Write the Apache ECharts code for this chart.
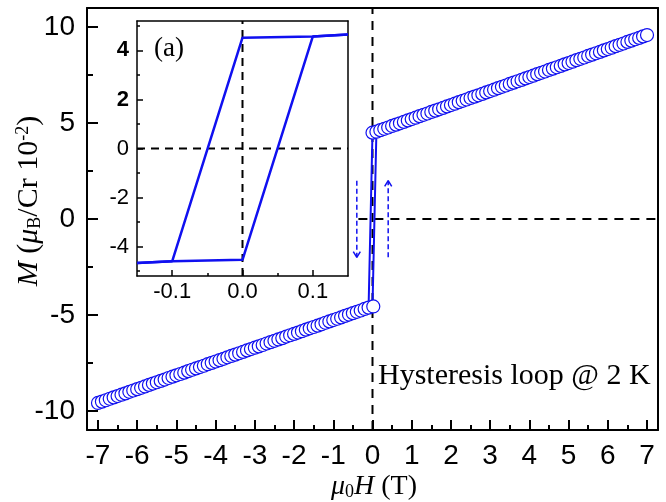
<!DOCTYPE html>
<html><head><meta charset="utf-8">
<script src="https://cdn.jsdelivr.net/npm/echarts@6/dist/echarts.min.js"></script>
<style>html,body{margin:0;padding:0;background:#fff}#c{width:666px;height:502px}</style>
</head><body><div id="c"></div>
<script>
// ---- data ----
const upperH = [0.0, 0.1, 0.2, 0.3, 0.4, 0.5, 0.6, 0.7, 0.8, 0.9, 1.0, 1.1, 1.2, 1.3, 1.4, 1.5, 1.6, 1.7, 1.8, 1.9, 2.0, 2.1, 2.2, 2.3, 2.4, 2.5, 2.6, 2.7, 2.8, 2.9, 3.0, 3.1, 3.2, 3.3, 3.4, 3.5, 3.6, 3.7, 3.8, 3.9, 4.0, 4.1, 4.2, 4.3, 4.4, 4.5, 4.6, 4.7, 4.8, 4.9, 5.0, 5.1, 5.2, 5.3, 5.4, 5.5, 5.6, 5.7, 5.8, 5.9, 6.0, 6.1, 6.2, 6.3, 6.4, 6.5, 6.6, 6.7, 6.8, 6.9, 7.0];
const upperM = [4.50, 4.55, 4.63, 4.70, 4.77, 4.85, 4.92, 4.99, 5.06, 5.14, 5.21, 5.28, 5.36, 5.43, 5.50, 5.58, 5.65, 5.72, 5.79, 5.87, 5.94, 6.01, 6.09, 6.16, 6.23, 6.31, 6.38, 6.45, 6.52, 6.60, 6.67, 6.74, 6.82, 6.89, 6.96, 7.04, 7.11, 7.18, 7.25, 7.33, 7.40, 7.47, 7.55, 7.62, 7.69, 7.77, 7.84, 7.91, 7.98, 8.06, 8.13, 8.20, 8.28, 8.35, 8.42, 8.50, 8.57, 8.64, 8.71, 8.79, 8.86, 8.93, 9.01, 9.08, 9.15, 9.23, 9.30, 9.37, 9.44, 9.52, 9.59];
const lowerH = [-7.0, -6.9, -6.8, -6.7, -6.6, -6.5, -6.4, -6.3, -6.2, -6.1, -6.0, -5.9, -5.8, -5.7, -5.6, -5.5, -5.4, -5.3, -5.2, -5.1, -5.0, -4.9, -4.8, -4.7, -4.6, -4.5, -4.4, -4.3, -4.2, -4.1, -4.0, -3.9, -3.8, -3.7, -3.6, -3.5, -3.4, -3.3, -3.2, -3.1, -3.0, -2.9, -2.8, -2.7, -2.6, -2.5, -2.4, -2.3, -2.2, -2.1, -2.0, -1.9, -1.8, -1.7, -1.6, -1.5, -1.4, -1.3, -1.2, -1.1, -1.0, -0.9, -0.8, -0.7, -0.6, -0.5, -0.4, -0.3, -0.2, -0.1, 0.02];
const lowerM = [-9.59, -9.52, -9.45, -9.37, -9.30, -9.23, -9.16, -9.09, -9.01, -8.94, -8.87, -8.80, -8.73, -8.65, -8.58, -8.51, -8.44, -8.37, -8.29, -8.22, -8.15, -8.08, -8.01, -7.93, -7.86, -7.79, -7.72, -7.65, -7.57, -7.50, -7.43, -7.36, -7.29, -7.21, -7.14, -7.07, -7.00, -6.93, -6.85, -6.78, -6.71, -6.64, -6.57, -6.49, -6.42, -6.35, -6.28, -6.21, -6.13, -6.06, -5.99, -5.92, -5.85, -5.77, -5.70, -5.63, -5.56, -5.49, -5.41, -5.34, -5.27, -5.20, -5.13, -5.05, -4.98, -4.91, -4.84, -4.77, -4.69, -4.62, -4.56];
const loopDownH = [0.15, 0.1, 0.0, -0.1, -0.15];
const loopDownM = [4.65, 4.57, 4.52, -4.60, -4.67];
const loopUpH = [-0.15, -0.1, 0.0, 0.1, 0.15];
const loopUpM = [-4.67, -4.60, -4.54, 4.57, 4.65];
const xTicks = [-7, -6, -5, -4, -3, -2, -1, 0, 1, 2, 3, 4, 5, 6, 7];
const xMinor = [-6.5, -5.5, -4.5, -3.5, -2.5, -1.5, -0.5, 0.5, 1.5, 2.5, 3.5, 4.5, 5.5, 6.5];
const yTicks = [-10, -5, 0, 5, 10];
const yMinor = [-7.5, -2.5, 2.5, 7.5];
const insetXTicks = [-0.1, 0, 0.1];
const insetXMinor = [-0.05, 0.05];
const insetYTicks = [-4, -2, 0, 2, 4];
const insetYMinor = [-5, -3, -1, 1, 3, 5];
const arrowDownH = [-0.4, -0.4], arrowDownM = [2.0, -2.0];
const arrowUpH = [0.4, 0.4], arrowUpM = [-2.0, 2.0];
const headDownH = [-0.49, -0.4, -0.31], headDownM = [-1.7, -2.0, -1.7];
const headUpH = [0.31, 0.4, 0.49], headUpM = [1.7, 2.0, 1.7];
const zeroVH = [0, 0], zeroVM = [-11, 11];
const zeroHH = [-0.36, 7.3], zeroHM = [0, 0];
const insetVH = [0, 0], insetVM = [-5.2, 5.2];
const insetHH = [-0.15, 0.15], insetHM = [0, 0];

const zip = (a, b) => a.map((v, i) => [v, b[i]]);
const BLUE = '#1010f0';
const SANS = '"Liberation Sans", Arial, sans-serif';
const SERIF = '"Liberation Serif", "Times New Roman", serif';

function lineAxis(extra) {
  return Object.assign({
    type: 'value', axisLine: { show: true, onZero: false, lineStyle: { color: '#000', width: 2 } },
    axisTick: { show: false }, axisLabel: { show: false }, splitLine: { show: false }
  }, extra);
}
function tickAxis(extra, vals, len, width) {
  return Object.assign({
    type: 'value', axisLine: { show: false, onZero: false },
    axisTick: { show: true, inside: true, length: len, customValues: vals, lineStyle: { color: '#000', width: width } },
    axisLabel: { show: false }, splitLine: { show: false }
  }, extra);
}

const chart = echarts.init(document.getElementById('c'), null, { renderer: 'canvas' });
chart.setOption({
  animation: false,
  backgroundColor: '#fff',
  grid: [
    { left: 87, right: 8, top: 8, bottom: 72, containLabel: false, outerBoundsMode: 'none' },
    { left: 137, top: 21, width: 211, height: 255, containLabel: false, outerBoundsMode: 'none', show: true, backgroundColor: '#fff', borderWidth: 0, z: 3 }
  ],
  xAxis: [
    Object.assign(lineAxis({ gridIndex: 0, position: 'bottom', min: -7.28, max: 7.28 }), {
      axisTick: { show: true, inside: true, length: 10, customValues: xTicks, lineStyle: { color: '#000', width: 2 } },
      axisLabel: { show: true, customValues: xTicks, margin: 12, color: '#000', fontSize: 28, fontFamily: SANS }
    }),
    tickAxis({ gridIndex: 0, position: 'bottom', min: -7.28, max: 7.28 }, xMinor, 5, 2),
    lineAxis({ gridIndex: 0, position: 'top', min: -7.28, max: 7.28 }),
    Object.assign(lineAxis({ gridIndex: 1, position: 'bottom', min: -0.15, max: 0.15, z: 4 }), {
      axisLine: { show: true, onZero: false, lineStyle: { color: '#000', width: 1.5 } },
      axisTick: { show: true, inside: true, length: 6, customValues: insetXTicks, lineStyle: { color: '#000', width: 1.5 } },
      axisLabel: { show: true, customValues: insetXTicks, margin: 5, color: '#000', fontSize: 22, fontFamily: SANS,
        formatter: v => v.toFixed(1) }
    }),
    tickAxis({ gridIndex: 1, position: 'bottom', min: -0.15, max: 0.15, z: 4 }, insetXMinor, 3, 1.5),
    Object.assign(lineAxis({ gridIndex: 1, position: 'top', min: -0.15, max: 0.15, z: 4 }), {
      axisLine: { show: true, onZero: false, lineStyle: { color: '#000', width: 1.5 } } })
  ],
  yAxis: [
    Object.assign(lineAxis({ gridIndex: 0, position: 'left', min: -11, max: 11 }), {
      axisTick: { show: true, inside: true, length: 11, customValues: yTicks, lineStyle: { color: '#000', width: 2 } },
      axisLabel: { show: true, customValues: yTicks, margin: 12, color: '#000', fontSize: 28, fontFamily: SANS }
    }),
    tickAxis({ gridIndex: 0, position: 'left', min: -11, max: 11 }, yMinor, 6, 2),
    lineAxis({ gridIndex: 0, position: 'right', min: -11, max: 11 }),
    Object.assign(lineAxis({ gridIndex: 1, position: 'left', min: -5.2, max: 5.2, z: 4 }), {
      axisLine: { show: true, onZero: false, lineStyle: { color: '#000', width: 1.5 } },
      axisTick: { show: true, inside: true, length: 6, customValues: insetYTicks, lineStyle: { color: '#000', width: 1.5 } },
      axisLabel: { show: true, customValues: insetYTicks, margin: 8, color: '#000', fontSize: 22, fontFamily: SANS,
        formatter: v => (v > 0 ? '{b|' + v + '}' : String(v)),
        rich: { b: { fontWeight: 'bold', fontSize: 22, fontFamily: SANS, color: '#000' } } }
    }),
    tickAxis({ gridIndex: 1, position: 'left', min: -5.2, max: 5.2, z: 4 }, insetYMinor, 3, 1.5),
    Object.assign(lineAxis({ gridIndex: 1, position: 'right', min: -5.2, max: 5.2, z: 4 }), {
      axisLine: { show: true, onZero: false, lineStyle: { color: '#000', width: 1.5 } } })
  ],
  series: [
    { type: 'line', xAxisIndex: 0, yAxisIndex: 0, data: zip(zeroVH, zeroVM), symbol: 'none', silent: true,
      lineStyle: { color: '#000', width: 2, type: [9, 7] }, z: 1 },
    { type: 'line', xAxisIndex: 0, yAxisIndex: 0, data: zip(zeroHH, zeroHM), symbol: 'none', silent: true,
      lineStyle: { color: '#000', width: 2, type: [9, 7] }, z: 1 },
    { type: 'line', xAxisIndex: 0, yAxisIndex: 0, data: zip(arrowDownH, arrowDownM), symbol: 'none',
      lineStyle: { color: BLUE, width: 1.5, type: [5, 3] }, z: 2 },
    { type: 'line', xAxisIndex: 0, yAxisIndex: 0, data: zip(headDownH, headDownM), symbol: 'none',
      lineStyle: { color: BLUE, width: 1.5 }, z: 2 },
    { type: 'line', xAxisIndex: 0, yAxisIndex: 0, data: zip(arrowUpH, arrowUpM), symbol: 'none',
      lineStyle: { color: BLUE, width: 1.5, type: [5, 3] }, z: 2 },
    { type: 'line', xAxisIndex: 0, yAxisIndex: 0, data: zip(headUpH, headUpM), symbol: 'none',
      lineStyle: { color: BLUE, width: 1.5 }, z: 2 },
    { type: 'line', xAxisIndex: 0, yAxisIndex: 0, data: zip(loopDownH, loopDownM), symbol: 'none',
      lineStyle: { color: BLUE, width: 2 }, z: 2 },
    { type: 'line', xAxisIndex: 0, yAxisIndex: 0, data: zip(loopUpH, loopUpM), symbol: 'none',
      lineStyle: { color: BLUE, width: 2 }, z: 2 },
    { type: 'scatter', xAxisIndex: 0, yAxisIndex: 0, data: zip(lowerH, lowerM), symbol: 'circle', symbolSize: 13,
      itemStyle: { color: '#fff', borderColor: BLUE, borderWidth: 1.2, opacity: 1 }, z: 3 },
    { type: 'scatter', xAxisIndex: 0, yAxisIndex: 0, data: zip(upperH, upperM), symbol: 'circle', symbolSize: 13,
      itemStyle: { color: '#fff', borderColor: BLUE, borderWidth: 1.2, opacity: 1 }, z: 3 },
    // inset
    { type: 'line', xAxisIndex: 3, yAxisIndex: 3, data: zip(insetVH, insetVM), symbol: 'none',
      lineStyle: { color: '#000', width: 2, type: [8, 6] }, z: 5 },
    { type: 'line', xAxisIndex: 3, yAxisIndex: 3, data: zip(insetHH, insetHM), symbol: 'none',
      lineStyle: { color: '#000', width: 2, type: [8, 6] }, z: 5 },
    { type: 'line', xAxisIndex: 3, yAxisIndex: 3, data: zip(loopDownH, loopDownM), symbol: 'none',
      lineStyle: { color: BLUE, width: 2.5 }, z: 6 },
    { type: 'line', xAxisIndex: 3, yAxisIndex: 3, data: zip(loopUpH, loopUpM), symbol: 'none',
      lineStyle: { color: BLUE, width: 2.5 }, z: 6 }
  ],
  graphic: [
    { type: 'text', x: 154, y: 35, z: 10, style: { text: '(a)', fontSize: 27, fontFamily: SERIF, fill: '#000' } },
    { type: 'text', x: 378, y: 376, z: 10, style: { text: 'Hysteresis loop @ 2 K', fontSize: 30, fontFamily: SERIF, fill: '#000',
      verticalAlign: 'middle', textVerticalAlign: 'middle' } },
    { type: 'text', x: 29, y: 201, rotation: Math.PI / 2, z: 10, style: {
      text: '{i|M}{n| (}{i|μ}{sub|B}{n|/Cr 10}{sup|-2}{n|)}',
      fontSize: 30, fontFamily: SERIF, fill: '#000',
      align: 'center', textAlign: 'center', verticalAlign: 'middle', textVerticalAlign: 'middle',
      rich: {
        n: { fontSize: 30, fontFamily: SERIF, lineHeight: 30, fill: '#000', color: '#000' },
        i: { fontSize: 30, fontFamily: SERIF, fontStyle: 'italic', lineHeight: 30, fill: '#000', color: '#000' },
        sub: { fontSize: 18, fontFamily: SERIF, lineHeight: 10, verticalAlign: 'bottom', fill: '#000', color: '#000' },
        sup: { fontSize: 18, fontFamily: SERIF, lineHeight: 16, verticalAlign: 'top', fill: '#000', color: '#000' }
      } } },
    { type: 'text', x: 374, y: 487, z: 10, style: {
      text: '{i|μ}{sub|0}{i|H}{n| (T)}',
      fontSize: 28, fontFamily: SERIF, fill: '#000',
      align: 'center', textAlign: 'center', verticalAlign: 'middle', textVerticalAlign: 'middle',
      rich: {
        n: { fontSize: 28, fontFamily: SERIF, lineHeight: 28, fill: '#000', color: '#000' },
        i: { fontSize: 28, fontFamily: SERIF, fontStyle: 'italic', lineHeight: 28, fill: '#000', color: '#000' },
        sub: { fontSize: 18, fontFamily: SERIF, lineHeight: 8, verticalAlign: 'bottom', fill: '#000', color: '#000' }
      } } }
  ]
});
</script>
</body></html>
